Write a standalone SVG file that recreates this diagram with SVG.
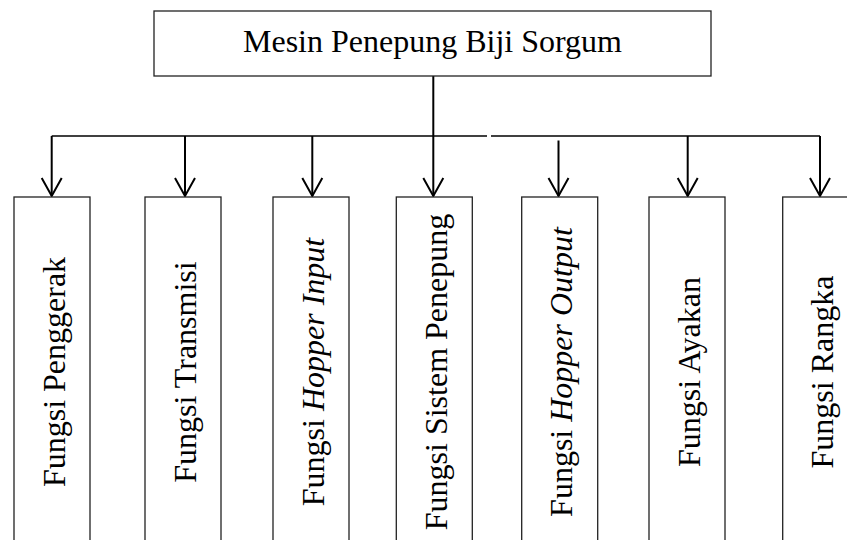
<svg xmlns="http://www.w3.org/2000/svg" width="847" height="540" viewBox="0 0 847 540">
<defs>
<marker id="arr" markerUnits="userSpaceOnUse" markerWidth="30" markerHeight="30" refX="0" refY="0" orient="auto" overflow="visible">
<path d="M-18,-10 L0,0 L-18,10" fill="none" stroke="#000" stroke-width="2"/>
</marker>
<style>
.box{fill:#fff;stroke:#222;stroke-width:1.3}
.t{font-family:"Liberation Serif","Times New Roman",serif;font-size:32px;fill:#000}
.v{text-anchor:middle}
.ln{fill:none;stroke:#000;stroke-width:1.6}
.ar{fill:none;stroke:#000;stroke-width:2;marker-end:url(#arr)}
</style>
</defs>
<rect width="847" height="540" fill="#fff"/>
<g id="connectors">
<line class="ln" x1="51.7" y1="136" x2="487" y2="136"/>
<line class="ln" x1="491" y1="136" x2="820" y2="136"/>
<line class="ar" x1="433.3" y1="76" x2="433.3" y2="196"/>
<line class="ar" x1="51.7" y1="136" x2="51.7" y2="196"/>
<line class="ar" x1="185" y1="136" x2="185" y2="196"/>
<line class="ar" x1="312.3" y1="136" x2="312.3" y2="196"/>
<line class="ar" x1="558.5" y1="140.5" x2="558.5" y2="196"/>
<line class="ar" x1="687.7" y1="136" x2="687.7" y2="196"/>
<line class="ar" x1="820" y1="136" x2="820" y2="196"/>
</g>
<g id="root">
<rect class="box" x="154" y="11" width="557" height="65"/>
<text class="t v" x="432.5" y="51.7">Mesin Penepung Biji Sorgum</text>
</g>
<g id="n1">
<rect class="box" x="14" y="197" width="76" height="360"/>
<text class="t v" x="64.7" y="372" transform="rotate(-90 64.7 372)">Fungsi Penggerak</text>
</g>
<g id="n2">
<rect class="box" x="145" y="197" width="76" height="360"/>
<text class="t v" x="195.5" y="372" transform="rotate(-90 195.5 372)">Fungsi Transmisi</text>
</g>
<g id="n3">
<rect class="box" x="273" y="197" width="76" height="360"/>
<text class="t v" x="323.5" y="372" transform="rotate(-90 323.5 372)">Fungsi <tspan font-style="italic">Hopper Input</tspan></text>
</g>
<g id="n4">
<rect class="box" x="396.3" y="197" width="76" height="360"/>
<text class="t v" x="446.8" y="372" transform="rotate(-90 446.8 372)">Fungsi Sistem Penepung</text>
</g>
<g id="n5">
<rect class="box" x="521.7" y="197" width="76" height="360"/>
<text class="t v" x="572" y="372" transform="rotate(-90 572 372)">Fungsi <tspan font-style="italic">Hopper Output</tspan></text>
</g>
<g id="n6">
<rect class="box" x="649" y="197" width="76" height="360"/>
<text class="t v" x="699.5" y="372" transform="rotate(-90 699.5 372)">Fungsi Ayakan</text>
</g>
<g id="n7">
<rect class="box" x="782.7" y="197" width="76" height="360"/>
<text class="t v" x="833.2" y="372" transform="rotate(-90 833.2 372)">Fungsi Rangka</text>
</g>
</svg>
